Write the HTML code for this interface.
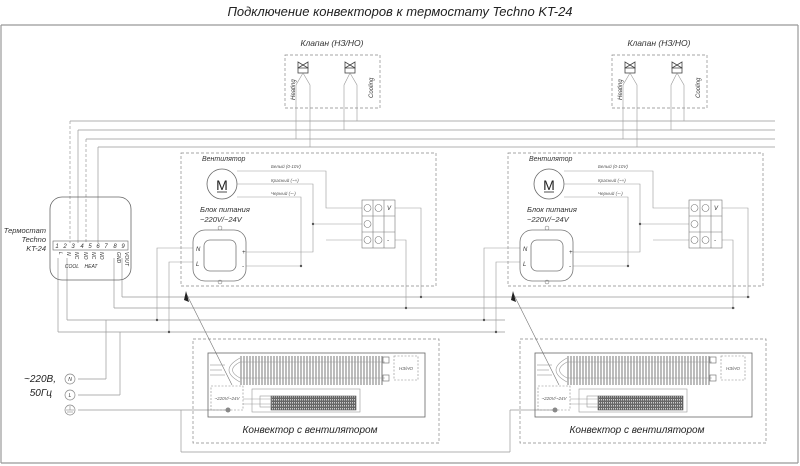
<!DOCTYPE html>
<html><head><meta charset="utf-8"><style>
html,body{margin:0;padding:0;background:#fff;}
svg{display:block;font-family:"Liberation Sans","DejaVu Sans",sans-serif;font-style:italic;}
</style></head><body>
<svg width="800" height="466" viewBox="0 0 800 466" xmlns="http://www.w3.org/2000/svg">
<defs>
<pattern id="fins" width="3" height="10" patternUnits="userSpaceOnUse"><line x1="1" y1="0" x2="1" y2="10" stroke="#555" stroke-width="0.8"/></pattern>
<pattern id="fan" width="2" height="3" patternUnits="userSpaceOnUse"><rect width="2" height="3" fill="#666"/><rect width="1" height="1.5" fill="#ccc"/></pattern>
<g id="valve">
<path d="M0,0 L10,6 L10,0 L0,6 Z" fill="none" stroke="#444" stroke-width="0.8"/>
<rect x="0" y="6" width="10" height="5" fill="none" stroke="#444" stroke-width="0.8"/>
</g>
<g id="blk" fill="none" stroke="#777" stroke-width="0.7">
<!-- valve box -->
</g>
</defs>
<rect x="0" y="0" width="800" height="466" fill="#fff"/>
<g fill="none" stroke="#999" stroke-width="1.2">
<line x1="1" y1="25" x2="1" y2="463"/><line x1="1" y1="463" x2="798" y2="463"/><line x1="798" y1="25" x2="798" y2="463"/>
<line x1="1" y1="25" x2="798" y2="25"/>
</g>
<text x="400" y="16" text-anchor="middle" font-size="13" fill="#222">Подключение конвекторов к термостату Techno KT-24</text>

<!-- bus lines top -->
<g stroke="#999" stroke-width="0.7" fill="none">
<line x1="70" y1="121" x2="775" y2="121"/>
<line x1="78" y1="130" x2="775" y2="130"/>
<line x1="86" y1="139" x2="775" y2="139"/>
<line x1="98" y1="147" x2="775" y2="147"/>
<line x1="70" y1="121" x2="70" y2="243" stroke-dasharray="3,2"/>
<line x1="78" y1="130" x2="78" y2="243"/>
<line x1="86" y1="139" x2="86" y2="243" stroke-dasharray="3,2"/>
<line x1="98" y1="147" x2="98" y2="243"/>
<!-- bottom bus -->
<line x1="122" y1="258" x2="122" y2="297"/><line x1="122" y1="297" x2="750" y2="297"/>
<line x1="114" y1="258" x2="114" y2="308"/><line x1="114" y1="308" x2="735" y2="308"/>
<line x1="67" y1="258" x2="67" y2="320"/><line x1="67" y1="320" x2="505" y2="320"/>
<line x1="58" y1="258" x2="58" y2="332"/><line x1="58" y1="332" x2="505" y2="332"/>
<line x1="106" y1="320" x2="106" y2="379"/><line x1="78" y1="379" x2="106" y2="379"/>
<line x1="120" y1="332" x2="120" y2="395"/><line x1="78" y1="395" x2="120" y2="395"/>
<line x1="78" y1="410" x2="228" y2="410"/>
<line x1="181" y1="410" x2="181" y2="452"/><line x1="181" y1="452" x2="510" y2="452"/>
<line x1="510" y1="452" x2="510" y2="410"/><line x1="510" y1="410" x2="555" y2="410"/>
</g>

<!-- thermostat -->
<g fill="none" stroke="#666" stroke-width="0.8">
<rect x="50" y="197" width="81" height="83" rx="12"/>
<rect x="53" y="241" width="75" height="9" stroke-width="0.6"/>
</g>
<g font-size="6" fill="#333" text-anchor="middle">
<text x="57" y="248">1</text><text x="65" y="248">2</text><text x="73" y="248">3</text><text x="82" y="248">4</text><text x="90" y="248">5</text><text x="98" y="248">6</text><text x="106" y="248">7</text><text x="115" y="248">8</text><text x="123" y="248">9</text>
<text x="72" y="268" font-size="5">COOL</text><text x="91" y="268" font-size="5">HEAT</text>
</g>
<g font-size="5" fill="#333">
<text transform="translate(59,252) rotate(90)">L</text><text transform="translate(67,252) rotate(90)">N</text><text transform="translate(75,252) rotate(90)">NC</text><text transform="translate(84,252) rotate(90)">NO</text><text transform="translate(92,252) rotate(90)">NC</text><text transform="translate(100,252) rotate(90)">NO</text><text transform="translate(117,252) rotate(90)">GND</text><text transform="translate(125,252) rotate(90)">VOUT</text>
</g>
<g font-size="7.5" fill="#333" text-anchor="end"><text x="46" y="233">Термостат</text><text x="46" y="242">Techno</text><text x="46" y="251">KT-24</text></g>

<!-- supply -->
<g font-size="10" fill="#222" text-anchor="end"><text x="56" y="382">~220В,</text><text x="52" y="396">50Гц</text></g>
<g fill="#fff" stroke="#888" stroke-width="0.7"><circle cx="70" cy="379" r="5"/><circle cx="70" cy="395" r="5"/><circle cx="70" cy="410" r="5"/></g>
<g font-size="5" fill="#333" text-anchor="middle"><text x="70" y="381">N</text><text x="70" y="397">L</text></g>
<g stroke="#888" stroke-width="0.6"><line x1="70" y1="406" x2="70" y2="410"/><line x1="66" y1="410" x2="74" y2="410"/><line x1="67" y1="412" x2="73" y2="412"/></g>

<!-- block 1 -->
<g id="b1">
<g fill="none" stroke="#888" stroke-width="0.7" stroke-dasharray="3,2">
<rect x="285" y="55" width="95" height="53"/>
<rect x="181" y="153" width="255" height="133"/>
<rect x="193" y="339" width="246" height="104"/>
</g>
<text x="332" y="46" font-size="8.5" fill="#333" text-anchor="middle">Клапан (НЗ/НО)</text>
<use href="#valve" x="298" y="62"/><use href="#valve" x="345" y="62"/>
<g font-size="6" fill="#333"><text transform="translate(295,100) rotate(-90)">Heating</text><text transform="translate(373,98) rotate(-90)">Cooling</text></g>
<g fill="none" stroke="#999" stroke-width="0.6">
<path d="M303,73 L296,85 L296,139"/><path d="M303,73 L310,85 L310,147"/>
<path d="M350,73 L344,85 L344,130"/><path d="M350,73 L357,85 L357,121"/>
</g>
<text x="202" y="161" font-size="7" fill="#333">Вентилятор</text>
<circle cx="222" cy="184" r="15" fill="none" stroke="#666" stroke-width="0.8"/>
<text x="222" y="190" font-size="14" font-style="normal" fill="#222" text-anchor="middle">M</text>
<line x1="217" y1="192" x2="227" y2="192" stroke="#222" stroke-width="0.8"/>
<g font-size="4.5" fill="#555"><text x="271" y="168">Белый (0-10V)</text><text x="271" y="182">Красный (~+)</text><text x="271" y="195">Черный (~-)</text></g>
<g fill="none" stroke="#999" stroke-width="0.6">
<path d="M237,171 L326,171 L326,208 L362,208"/>
<path d="M237,184 L313,184 L313,252 L246,252"/>
<path d="M237,197 L301,197 L301,266 L246,266"/>
<path d="M313,224 L362,224"/>
<path d="M326,240 L362,240"/>
<path d="M395,208 L421,208 L421,297"/>
<path d="M395,240 L406,240 L406,308"/>
<path d="M193,248 L157,248 L157,320"/><path d="M193,262 L169,262 L169,332"/>
</g>
<g fill="#555"><circle cx="313" cy="224" r="1.2"/><circle cx="301" cy="266" r="1.2"/><circle cx="421" cy="297" r="1.2"/><circle cx="406" cy="308" r="1.2"/><circle cx="157" cy="320" r="1.2"/><circle cx="169" cy="332" r="1.2"/></g>
<text x="200" y="212" font-size="7.5" fill="#333">Блок питания</text>
<text x="200" y="222" font-size="7.5" fill="#333">~220V/~24V</text>
<rect x="193" y="230" width="53" height="51" rx="12" fill="none" stroke="#777" stroke-width="0.8"/>
<rect x="204" y="240" width="32" height="31" rx="6" fill="none" stroke="#777" stroke-width="0.8"/>
<circle cx="220" cy="228" r="2" fill="none" stroke="#777" stroke-width="0.5"/><circle cx="220" cy="282" r="2" fill="none" stroke="#777" stroke-width="0.5"/>
<g font-size="6" fill="#333"><text x="196" y="251">N</text><text x="196" y="266">L</text><text x="242" y="254">+</text><text x="242" y="268">-</text></g>
<g fill="none" stroke="#777" stroke-width="0.6">
<rect x="362" y="200" width="33" height="48"/>
<line x1="373" y1="200" x2="373" y2="248"/><line x1="384" y1="200" x2="384" y2="248"/>
<line x1="362" y1="216" x2="395" y2="216"/><line x1="362" y1="232" x2="395" y2="232"/>
<circle cx="367.5" cy="208" r="3.5"/><circle cx="378.5" cy="208" r="3.5"/><circle cx="367.5" cy="224" r="3.5"/><circle cx="367.5" cy="240" r="3.5"/><circle cx="378.5" cy="240" r="3.5"/>
</g>
<g font-size="6" fill="#333"><text x="387" y="210">V</text><text x="387" y="242">-</text></g>
<path d="M232,385 L186,293" stroke="#777" stroke-width="0.6" fill="none"/>
<path d="M186,291 L189,302 L184,300 Z" fill="#222"/>
<rect x="208" y="353" width="217" height="64" fill="none" stroke="#666" stroke-width="0.8"/>
<rect x="240" y="356" width="143" height="29" fill="url(#fins)"/>
<g fill="none" stroke="#999" stroke-width="0.6">
<line x1="240" y1="362" x2="385" y2="362"/><line x1="240" y1="378" x2="385" y2="378"/>
<path d="M240,362 Q225,370 240,378"/><path d="M240,358 Q218,370 240,382"/>
<line x1="210" y1="365" x2="225" y2="365"/><line x1="210" y1="370" x2="222" y2="370"/><line x1="210" y1="375" x2="225" y2="375"/>
</g>
<rect x="383" y="357" width="6" height="6" fill="none" stroke="#666" stroke-width="0.6"/><rect x="383" y="375" width="6" height="6" fill="none" stroke="#666" stroke-width="0.6"/>
<rect x="394" y="356" width="24" height="24" fill="none" stroke="#888" stroke-width="0.6" stroke-dasharray="2,1.5"/>
<text x="406" y="370" font-size="4.5" fill="#555" text-anchor="middle">НЗ/НО</text>
<rect x="211" y="386" width="32" height="24" fill="none" stroke="#888" stroke-width="0.6" stroke-dasharray="2,1.5"/>
<text x="227" y="400" font-size="4.5" fill="#555" text-anchor="middle">~220V/~24V</text>
<circle cx="228" cy="410" r="2.5" fill="#888"/>
<rect x="252" y="389" width="108" height="23" fill="none" stroke="#999" stroke-width="0.6"/>
<rect x="271" y="396" width="85" height="14" fill="url(#fan)" stroke="#555" stroke-width="0.6"/>
<g stroke="#999" stroke-width="0.6"><line x1="243" y1="399" x2="271" y2="399"/><line x1="243" y1="404" x2="271" y2="404"/><rect x="260" y="396" width="11" height="11" fill="none"/></g>
<text x="310" y="433" font-size="10" fill="#222" text-anchor="middle">Конвектор с вентилятором</text>
</g>
<use href="#b1" x="327" y="0"/>
</svg>
</body></html>
